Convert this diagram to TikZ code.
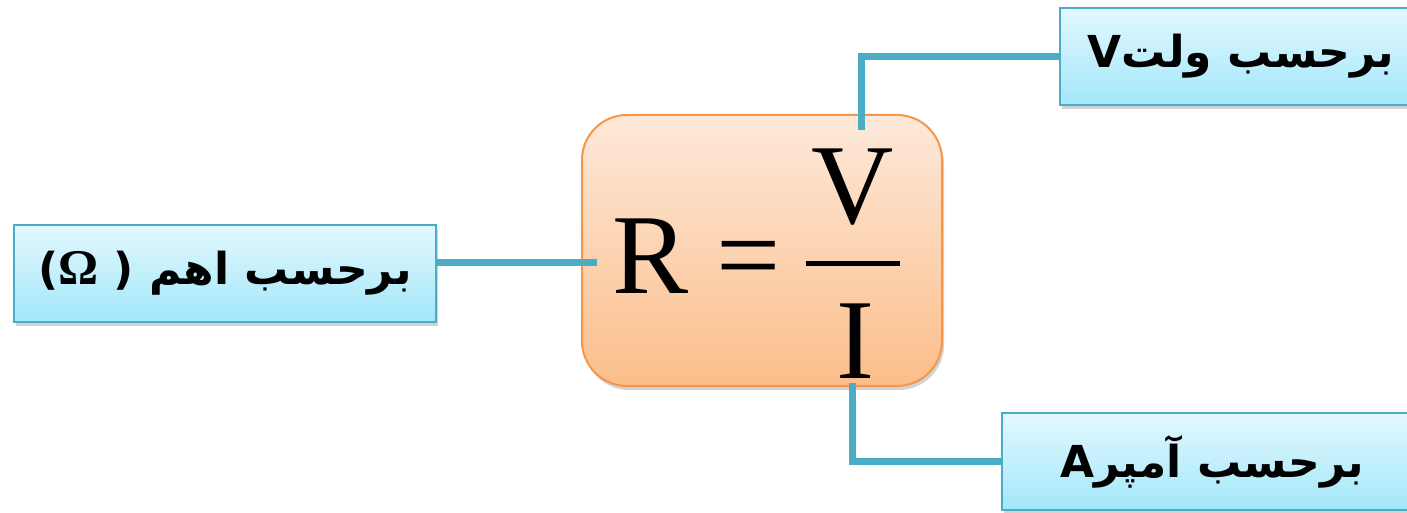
\documentclass[tikz,border=0pt]{standalone}
\usepackage{fontspec}
\usetikzlibrary{shadows}
\TeXXeTstate=1
\newfontfamily\arabicfont[Script=Arabic]{DejaVu Sans}
\newfontfamily\latinfont{DejaVu Sans}
\newfontfamily\timesfont{Liberation Serif}
\definecolor{linkblue}{HTML}{4BACC6}
\definecolor{boxtop}{HTML}{E3F8FE}
\definecolor{boxbot}{HTML}{A3E7FA}
\definecolor{eqtop}{HTML}{FDE9DA}
\definecolor{eqbot}{HTML}{FBBE8A}
\definecolor{eqline}{HTML}{F79646}
\begin{document}
\begin{tikzpicture}[x=1pt,y=-1pt,
  unitbox/.style={draw=linkblue,line width=2pt,top color=boxtop,bottom color=boxbot,
    minimum height=97pt,inner sep=0pt,
    drop shadow={shadow xshift=2pt,shadow yshift=-4pt,opacity=.35},
    font=\arabicfont\bfseries\fontsize{44}{52}\selectfont},
  link/.style={draw=linkblue,line width=7pt},
  sym/.style={anchor=base,inner sep=0pt,font=\timesfont\fontsize{114}{120}\selectfont}]
\useasboundingbox (0,0) rectangle (1407,513);
\node[draw=eqline,line width=2pt,top color=eqtop,bottom color=eqbot,rounded corners=45pt,
  minimum width=360pt,minimum height=271pt,
  drop shadow={shadow xshift=2pt,shadow yshift=-4pt,opacity=.35}] (formula) at (762,250.5) {};
\node[unitbox,minimum width=422pt] (ohm) at (225,273)
  {\beginR برحسب اهم \beginL{\latinfont\bfseries(}{\timesfont\bfseries\fontsize{50}{52}\selectfont Ω}{\latinfont\bfseries\ )}\endL\endR};
\node[unitbox,minimum width=362pt] (volt) at (1241,56.5) {\beginR برحسب ولتV\endR};
\node[unitbox,minimum width=420pt] (amp) at (1212,461.5) {\beginR برحسب آمپرA\endR};
% connectors
\coordinate (lin) at (597,262);
\coordinate (top) at (861,130);
\coordinate (bot) at (852,383);
\draw[link] (lin) -- (lin -| ohm.east);
\draw[link] (top) |- (volt.west);
\draw[link] (bot) |- (amp.west);
% R = V/I
\node[sym] (r) at (651,293) {R};
\node[sym] (eq) at (749,293) {=};
\node[sym] (v) at (853,223) {V};
\node[sym] (i) at (855,378) {I};
\draw[line width=5pt] (806,263) -- (900,263);
\end{tikzpicture}
\end{document}
